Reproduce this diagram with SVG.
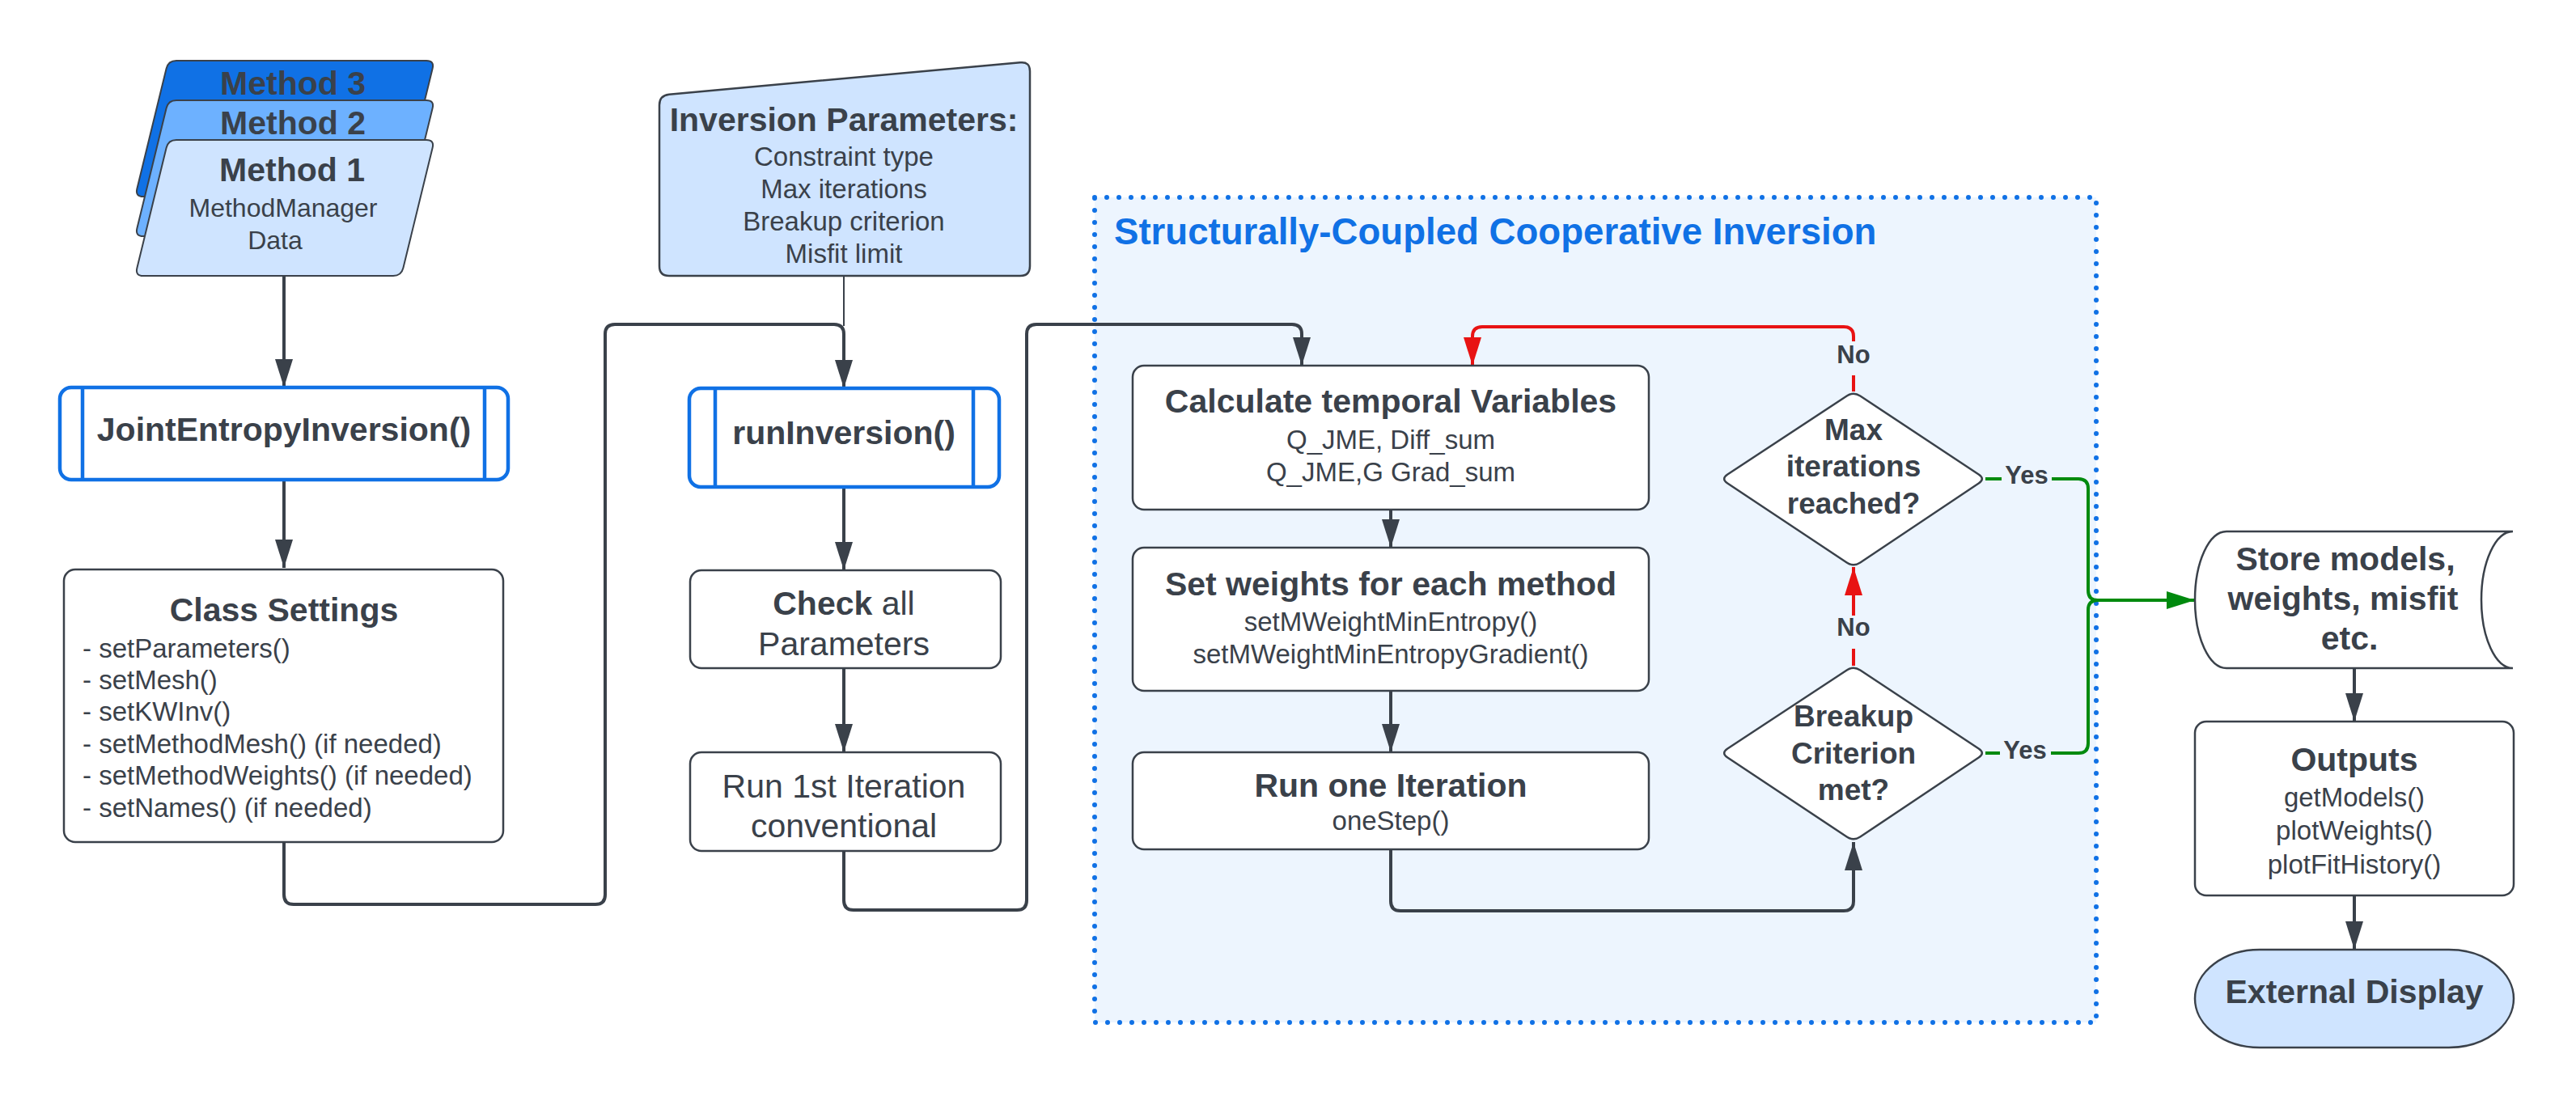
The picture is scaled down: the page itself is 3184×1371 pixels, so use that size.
<svg xmlns="http://www.w3.org/2000/svg" width="3184" height="1371" viewBox="0 0 3184 1371">
<style>
.t{font-family:"Liberation Sans",Arial,sans-serif;fill:#3a414a;text-anchor:middle}
.b{font-weight:bold;font-size:41px}
.r{font-size:33px}
.d{font-weight:bold;font-size:37px}
.l{font-weight:bold;font-size:31px}
.box{fill:#ffffff;stroke:#3a414a;stroke-width:2.5}
.sub{fill:#ffffff;stroke:#1071e5;stroke-width:4.5}
.conn{fill:none;stroke:#3a414a;stroke-width:4;stroke-linecap:butt}
.red{fill:none;stroke:#e81313;stroke-width:4}
.grn{fill:none;stroke:#008a0e;stroke-width:4}
</style>
<defs>
<marker id="ad" markerUnits="userSpaceOnUse" markerWidth="36" markerHeight="24" refX="35" refY="11" orient="auto"><path d="M0,0 L35,11 L0,22 Z" fill="#3a414a"/></marker>
<marker id="ar" markerUnits="userSpaceOnUse" markerWidth="36" markerHeight="24" refX="35" refY="11" orient="auto"><path d="M0,0 L35,11 L0,22 Z" fill="#e81313"/></marker>
<marker id="ag" markerUnits="userSpaceOnUse" markerWidth="36" markerHeight="24" refX="35" refY="11" orient="auto"><path d="M0,0 L35,11 L0,22 Z" fill="#008a0e"/></marker>
</defs>
<rect width="3184" height="1371" fill="#ffffff"/>

<g id="container">
<rect x="1353" y="244" width="1238" height="1020" fill="#edf5fe" stroke="#1071e5" stroke-width="6" stroke-dasharray="0 15" stroke-linecap="round"/>
<text x="1377" y="302" font-family="Liberation Sans, Arial, sans-serif" font-weight="bold" font-size="45.6" fill="#1071e5">Structurally-Coupled Cooperative Inversion</text>
</g>

<g id="connectors">
<path class="conn" d="M351,341 V479" marker-end="url(#ad)"/>
<path class="conn" d="M351,593 V702" marker-end="url(#ad)"/>
<path class="conn" d="M351,1042 V1106 Q351,1118 363,1118 H736 Q748,1118 748,1106 V413 Q748,401 760,401 H1031 Q1043,401 1043,413 V480" marker-end="url(#ad)"/>
<path fill="none" stroke="#3a414a" stroke-width="2" d="M1043,341 V403"/>
<path class="conn" d="M1043,602 V705" marker-end="url(#ad)"/>
<path class="conn" d="M1043,826 V930" marker-end="url(#ad)"/>
<path class="conn" d="M1043,1052 V1113 Q1043,1125 1055,1125 H1257 Q1269,1125 1269,1113 V413 Q1269,401 1281,401 H1597 Q1609,401 1609,413 V452" marker-end="url(#ad)"/>
<path class="red" d="M2291,484 V464"/>
<path class="red" d="M2291,422 V416 Q2291,404 2279,404 H1832 Q1820,404 1820,416 V452" marker-end="url(#ar)"/>
<path class="conn" d="M1719,630 V677" marker-end="url(#ad)"/>
<path class="conn" d="M1719,854 V930" marker-end="url(#ad)"/>
<path class="conn" d="M1719,1050 V1114 Q1719,1126 1731,1126 H2279 Q2291,1126 2291,1114 V1041" marker-end="url(#ad)"/>
<path class="red" d="M2291,823 V802"/>
<path class="red" d="M2291,761 V701" marker-end="url(#ar)"/>
<path class="grn" d="M2454,592 H2474"/>
<path class="grn" d="M2536,592 H2569 Q2581,592 2581,604 V730 Q2581,742 2593,742 H2713" marker-end="url(#ag)"/>
<path class="grn" d="M2454,931 H2472"/>
<path class="grn" d="M2535,931 H2569 Q2581,931 2581,919 V754 Q2581,742 2593,742"/>
<path class="conn" d="M2910,826 V892" marker-end="url(#ad)"/>
<path class="conn" d="M2910,1107 V1174" marker-end="url(#ad)"/>
<text class="t l" x="2291" y="449">No</text>
<text class="t l" x="2291" y="786">No</text>
<text class="t l" x="2505" y="598">Yes</text>
<text class="t l" x="2503" y="938">Yes</text>
</g>

<g id="method3">
<path d="M218,75 H527 Q537,75 534.6,84.7 L498.4,233.3 Q496,243 486,243 H177 Q167,243 169.4,233.3 L205.6,84.7 Q208,75 218,75 Z" fill="#1071e5" stroke="#3a414a" stroke-width="2"/>
<text class="t b" x="362" y="117">Method 3</text>
</g>
<g id="method2">
<path d="M218,124 H527 Q537,124 534.6,133.7 L498.4,282.3 Q496,292 486,292 H177 Q167,292 169.4,282.3 L205.6,133.7 Q208,124 218,124 Z" fill="#6db1ff" stroke="#3a414a" stroke-width="2"/>
<text class="t b" x="362" y="166">Method 2</text>
</g>
<g id="method1">
<path d="M218,173 H527 Q537,173 534.6,182.7 L498.4,331.3 Q496,341 486,341 H177 Q167,341 169.4,331.3 L205.6,182.7 Q208,173 218,173 Z" fill="#cfe4ff" stroke="#3a414a" stroke-width="2"/>
<text class="t b" x="361" y="224">Method 1</text>
<text class="t" x="350" y="268" font-size="32">MethodManager</text>
<text class="t" x="340" y="308" font-size="32">Data</text>
</g>

<g id="jei">
<rect class="sub" x="74" y="479" width="554" height="114" rx="14"/>
<line x1="102" y1="479" x2="102" y2="593" stroke="#1071e5" stroke-width="4.5"/>
<line x1="599" y1="479" x2="599" y2="593" stroke="#1071e5" stroke-width="4.5"/>
<text class="t b" x="351" y="545">JointEntropyInversion()</text>
</g>

<g id="classSettings">
<rect class="box" x="79" y="704" width="543" height="337" rx="14"/>
<text class="t b" x="351" y="768">Class Settings</text>
<g class="t r" style="text-anchor:start">
<text x="102" y="813">- setParameters()</text>
<text x="102" y="852">- setMesh()</text>
<text x="102" y="891">- setKWInv()</text>
<text x="102" y="931">- setMethodMesh() (if needed)</text>
<text x="102" y="970">- setMethodWeights() (if needed)</text>
<text x="102" y="1010">- setNames() (if needed)</text>
</g>
</g>

<g id="inversionParameters">
<path d="M815,130 Q815,118 827,116.7 L1261,77.3 Q1273,76 1273,88 V329 Q1273,341 1261,341 H827 Q815,341 815,329 Z" fill="#cfe4ff" stroke="#3a414a" stroke-width="2.5"/>
<text class="t b" x="1043" y="162">Inversion Parameters:</text>
<text class="t r" x="1043" y="205">Constraint type</text>
<text class="t r" x="1043" y="245">Max iterations</text>
<text class="t r" x="1043" y="285">Breakup criterion</text>
<text class="t r" x="1043" y="325">Misfit limit</text>
</g>

<g id="runInversion">
<rect class="sub" x="852" y="480" width="383" height="122" rx="14"/>
<line x1="884" y1="480" x2="884" y2="602" stroke="#1071e5" stroke-width="4.5"/>
<line x1="1203" y1="480" x2="1203" y2="602" stroke="#1071e5" stroke-width="4.5"/>
<text class="t b" x="1043" y="549">runInversion()</text>
</g>

<g id="checkParameters">
<rect class="box" x="853" y="705" width="384" height="121" rx="14"/>
<text class="t" x="1043" y="760" font-size="41"><tspan font-weight="bold">Check</tspan> all</text>
<text class="t" x="1043" y="810" font-size="41">Parameters</text>
</g>

<g id="runFirst">
<rect class="box" x="853" y="930" width="384" height="122" rx="14"/>
<text class="t" x="1043" y="986" font-size="41">Run 1st Iteration</text>
<text class="t" x="1043" y="1035" font-size="41">conventional</text>
</g>

<g id="calcVariables">
<rect class="box" x="1400" y="452" width="638" height="178" rx="14"/>
<text class="t b" x="1719" y="510">Calculate temporal Variables</text>
<text class="t r" x="1719" y="555">Q_JME, Diff_sum</text>
<text class="t r" x="1719" y="595">Q_JME,G Grad_sum</text>
</g>

<g id="setWeights">
<rect class="box" x="1400" y="677" width="638" height="177" rx="14"/>
<text class="t b" x="1719" y="736">Set weights for each method</text>
<text class="t r" x="1719" y="780">setMWeightMinEntropy()</text>
<text class="t r" x="1719" y="820">setMWeightMinEntropyGradient()</text>
</g>

<g id="runOne">
<rect class="box" x="1400" y="930" width="638" height="120" rx="14"/>
<text class="t b" x="1719" y="985">Run one Iteration</text>
<text class="t r" x="1719" y="1026">oneStep()</text>
</g>

<g id="maxIterations">
<path class="box" d="M2282.7,489.5 Q2291,484 2299.3,489.5 L2445.7,586.5 Q2454,592 2445.7,597.5 L2299.3,695.5 Q2291,701 2282.7,695.5 L2135.3,597.5 Q2127,592 2135.3,586.5 Z"/>
<text class="t d" x="2291" y="544">Max</text>
<text class="t d" x="2291" y="589">iterations</text>
<text class="t d" x="2291" y="635">reached?</text>
</g>

<g id="breakupCriterion">
<path class="box" d="M2282.7,828.5 Q2291,823 2299.3,828.5 L2445.7,925.5 Q2454,931 2445.7,936.5 L2299.3,1034.5 Q2291,1040 2282.7,1034.5 L2135.3,936.5 Q2127,931 2135.3,925.5 Z"/>
<text class="t d" x="2291" y="898">Breakup</text>
<text class="t d" x="2291" y="944">Criterion</text>
<text class="t d" x="2291" y="989">met?</text>
</g>

<g id="storeModels">
<path class="box" d="M2752,657 H3106 A39,84.5 0 0 0 3106,826 H2752 A39,84.5 0 0 1 2752,657 Z"/>
<text class="t b" x="2899" y="705">Store models,</text>
<text class="t b" x="2896" y="754">weights, misfit</text>
<text class="t b" x="2904" y="803">etc.</text>
</g>

<g id="outputs">
<rect class="box" x="2713" y="892" width="394" height="215" rx="14"/>
<text class="t b" x="2910" y="953">Outputs</text>
<text class="t r" x="2910" y="997">getModels()</text>
<text class="t r" x="2910" y="1038">plotWeights()</text>
<text class="t r" x="2910" y="1080">plotFitHistory()</text>
</g>

<g id="externalDisplay">
<rect x="2713" y="1174" width="394" height="121" rx="80" ry="60.5" fill="#cfe4ff" stroke="#3a414a" stroke-width="2.5"/>
<text class="t b" x="2910" y="1240">External Display</text>
</g>
</svg>
